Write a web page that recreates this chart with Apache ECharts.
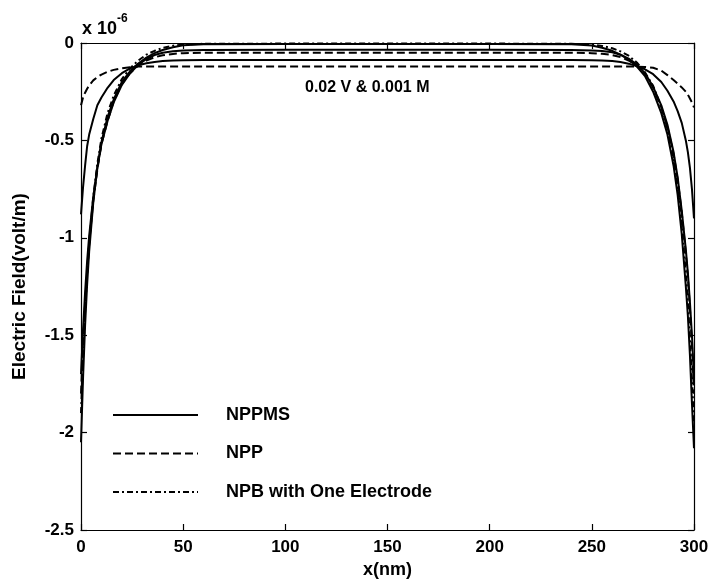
<!DOCTYPE html>
<html>
<head>
<meta charset="utf-8">
<script src="https://cdn.jsdelivr.net/npm/echarts@6/dist/echarts.min.js"></script>
<style>
  html, body { margin: 0; padding: 0; background: #fff; }
  #chart { width: 711px; height: 580px; }
</style>
</head>
<body>
<div id="chart"></div>
<script>
// Position along the gap (nm)
const xNm = [0, 1, 2, 3, 4, 6, 8, 10, 13, 16, 20, 24, 28, 32, 36, 40, 45, 50, 60,
  100, 150, 200,
  240, 250, 255, 260, 264, 268, 272, 276, 280, 284, 287, 290, 292, 294, 296, 297, 298, 299, 300];

// Electric field, in units of 1e-6 volt/m
const nppmsA = [-2.05, -1.72, -1.45, -1.24, -1.07, -0.82, -0.64, -0.51, -0.38, -0.29, -0.20, -0.145, -0.105, -0.075, -0.052, -0.036, -0.022, -0.012, -0.006,
  -0.005, -0.005, -0.005,
  -0.006, -0.013, -0.024, -0.040, -0.060, -0.085, -0.120, -0.170, -0.250, -0.360, -0.470, -0.630, -0.780, -0.980, -1.250, -1.400, -1.600, -1.850, -2.080];
const nppmsB = [-0.88, -0.74, -0.63, -0.53, -0.47, -0.39, -0.32, -0.28, -0.23, -0.19, -0.155, -0.13, -0.115, -0.104, -0.097, -0.093, -0.090, -0.088, -0.087,
  -0.087, -0.087, -0.087,
  -0.087, -0.088, -0.090, -0.093, -0.098, -0.106, -0.118, -0.135, -0.160, -0.200, -0.245, -0.300, -0.350, -0.410, -0.500, -0.560, -0.640, -0.750, -0.900];
const nppmsC = [-1.70, -1.47, -1.28, -1.12, -0.99, -0.79, -0.64, -0.52, -0.40, -0.305, -0.215, -0.155, -0.112, -0.082, -0.062, -0.050, -0.042, -0.038, -0.036,
  -0.035, -0.035, -0.035,
  -0.036, -0.038, -0.041, -0.048, -0.060, -0.080, -0.110, -0.155, -0.225, -0.320, -0.420, -0.560, -0.690, -0.860, -1.060, -1.180, -1.330, -1.500, -1.720];
const nppA = [-1.80, -1.55, -1.34, -1.17, -1.03, -0.81, -0.65, -0.52, -0.40, -0.30, -0.21, -0.155, -0.115, -0.090, -0.073, -0.063, -0.056, -0.052, -0.050,
  -0.050, -0.050, -0.050,
  -0.050, -0.052, -0.055, -0.062, -0.072, -0.090, -0.118, -0.160, -0.230, -0.330, -0.430, -0.570, -0.700, -0.870, -1.080, -1.200, -1.360, -1.550, -1.800];
const nppB = [-0.32, -0.28, -0.255, -0.235, -0.218, -0.192, -0.175, -0.162, -0.148, -0.138, -0.130, -0.124, -0.121, -0.120, -0.120, -0.120, -0.120, -0.120, -0.120,
  -0.120, -0.120, -0.120,
  -0.120, -0.120, -0.120, -0.120, -0.120, -0.120, -0.121, -0.123, -0.127, -0.142, -0.165, -0.190, -0.208, -0.228, -0.250, -0.265, -0.285, -0.305, -0.330];
const npbA = [-1.90, -1.62, -1.38, -1.19, -1.03, -0.79, -0.62, -0.49, -0.36, -0.27, -0.185, -0.13, -0.09, -0.06, -0.04, -0.025, -0.014, -0.008, -0.004,
  -0.003, -0.003, -0.003,
  -0.004, -0.008, -0.015, -0.027, -0.043, -0.065, -0.100, -0.150, -0.220, -0.330, -0.440, -0.590, -0.740, -0.930, -1.180, -1.330, -1.520, -1.720, -1.950];

const legendNames = ['NPPMS', 'NPP', 'NPB with One Electrode'];
const xTicks = { min: 0, max: 300, interval: 50 };
const yTicks = { min: -2.5, max: 0, interval: 0.5 };

const FONT = '"Liberation Sans", Arial, sans-serif';
const dashed = [8, 4];
const dashDot = [6, 3, 2, 3];

function pairs(ys) { return xNm.map((x, i) => [x, ys[i]]); }

function curve(name, ys, type) {
  return {
    name: name,
    type: 'line',
    xAxisIndex: 0,
    yAxisIndex: 0,
    data: pairs(ys),
    symbol: 'none',
    smooth: false,
    animation: false,
    lineStyle: { color: '#000', width: 2, type: type },
    itemStyle: { color: '#000' }
  };
}

const tickLabelStyle = { color: '#000', fontFamily: FONT, fontWeight: 'bold', fontSize: 17 };
const titleStyle = { color: '#000', fontFamily: FONT, fontWeight: 'bold', fontSize: 18 };
const lineStyle = { color: '#000', width: 1.2 };

const chart = echarts.init(document.getElementById('chart'), null, { renderer: 'canvas' });
chart.setOption({
  backgroundColor: '#fff',
  animation: false,
  grid: { left: 81, right: 17, top: 43, bottom: 50, outerBoundsMode: 'none', containLabel: false },
  legend: {
    data: legendNames,
    orient: 'vertical',
    left: 107,
    top: 401,
    itemWidth: 85,
    itemHeight: 14,
    itemGap: 20.5,
    selectedMode: false,
    itemStyle: { color: 'rgba(0,0,0,0)', borderWidth: 0, opacity: 0 },
    textStyle: { color: '#000', fontFamily: FONT, fontWeight: 'bold', fontSize: 18, padding: [0, 0, 0, 23] }
  },
  xAxis: [
    {
      type: 'value', position: 'bottom',
      min: xTicks.min, max: xTicks.max, interval: xTicks.interval,
      name: 'x(nm)', nameLocation: 'middle', nameGap: 31,
      nameTextStyle: titleStyle,
      axisLine: { show: true, onZero: false, lineStyle: lineStyle },
      axisTick: { show: true, inside: true, length: 6, lineStyle: lineStyle },
      axisLabel: Object.assign({ margin: 9 }, tickLabelStyle),
      splitLine: { show: false }
    },
    {
      type: 'value', position: 'top',
      min: xTicks.min, max: xTicks.max, interval: xTicks.interval,
      axisLine: { show: true, onZero: false, lineStyle: lineStyle },
      axisTick: { show: true, inside: true, length: 6, lineStyle: lineStyle },
      axisLabel: { show: false },
      splitLine: { show: false }
    }
  ],
  yAxis: [
    {
      type: 'value', position: 'left',
      min: yTicks.min, max: yTicks.max, interval: yTicks.interval,
      name: 'Electric Field(volt/m)', nameLocation: 'middle', nameGap: 52, nameRotate: 90,
      nameTextStyle: Object.assign({}, titleStyle, { fontSize: 19 }),
      axisLine: { show: true, onZero: false, lineStyle: lineStyle },
      axisTick: { show: true, inside: true, length: 6, lineStyle: lineStyle },
      axisLabel: Object.assign({ margin: 7 }, tickLabelStyle),
      splitLine: { show: false }
    },
    {
      type: 'value', position: 'right',
      min: yTicks.min, max: yTicks.max, interval: yTicks.interval,
      axisLine: { show: true, onZero: false, lineStyle: lineStyle },
      axisTick: { show: true, inside: true, length: 6, lineStyle: lineStyle },
      axisLabel: { show: false },
      splitLine: { show: false }
    }
  ],
  graphic: [
    { type: 'text', left: 82, top: 20, style: { text: 'x 10', fill: '#000', font: 'bold 18px ' + FONT } },
    { type: 'text', left: 117, top: 13, style: { text: '-6', fill: '#000', font: 'bold 12px ' + FONT } },
    { type: 'text', left: 305, top: 80, style: { text: '0.02 V & 0.001 M', fill: '#000', font: 'bold 16px ' + FONT } }
  ],
  series: [
    curve('NPPMS', nppmsA, 'solid'),
    curve('NPP', nppA, dashed),
    curve('NPB with One Electrode', npbA, dashDot),
    curve('NPPMS', nppmsB, 'solid'),
    curve('NPPMS', nppmsC, 'solid'),
    curve('NPP', nppB, dashed)
  ]
});
</script>
</body>
</html>
